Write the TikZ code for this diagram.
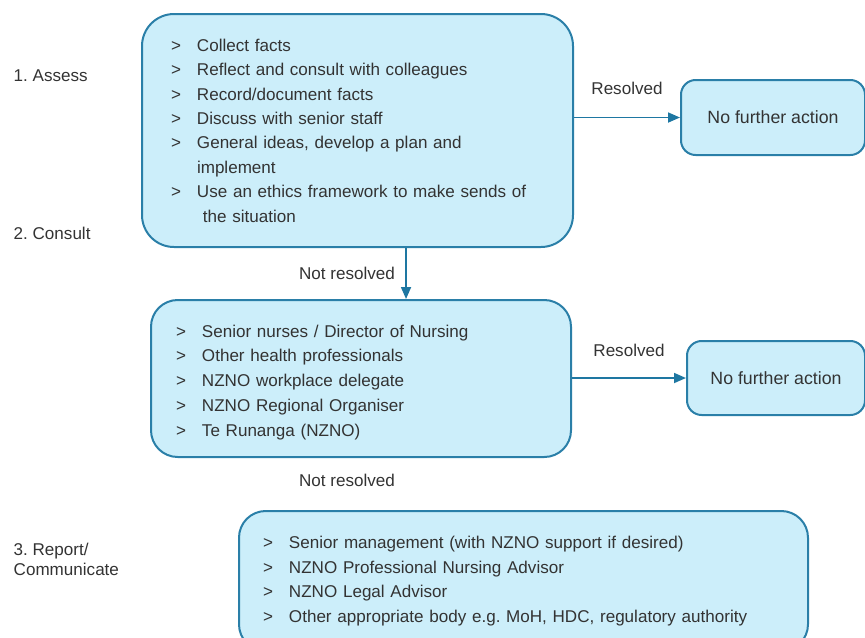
\documentclass[tikz,border=0pt]{standalone}
\usepackage{fontspec}
\setmainfont{Liberation Sans}
\usetikzlibrary{positioning,arrows.meta}

\definecolor{boxfill}{HTML}{CCEEFA}
\definecolor{boxline}{HTML}{2A7FA8}
\definecolor{arrowc}{HTML}{1E77A2}
\definecolor{txt}{HTML}{333333}

\newcommand{\itm}[1]{\makebox[19.5pt][l]{>}\mbox{#1}}
\newcommand{\cnt}[2][0pt]{\hspace*{\dimexpr19.5pt+#1\relax}\mbox{#2}}
\frenchspacing

\begin{document}
\begin{tikzpicture}[
    x=0.75pt, y=-0.75pt,
    font=\fontsize{12.8}{18.3}\selectfont, text=txt,
    stage/.style={rectangle, draw=boxline, fill=boxfill, line width=1.5pt,
                  anchor=north west, align=left, inner ysep=0pt},
    noaction/.style={rectangle, draw=boxline, fill=boxfill, line width=1.5pt,
                     rounded corners=11pt, anchor=north west, align=center,
                     font=\fontsize{13.3}{16}\selectfont},
    steplabel/.style={anchor=west, align=left,
                      font=\fontsize{12.8}{15}\selectfont},
    flow/.style={-{Triangle[length=9pt,width=7.5pt]}, draw=arrowc, line width=1.3pt}
]
\clip (0,0) rectangle (865,637);

% Step labels
\node[steplabel] (assess)  at (9,76)  {1. Assess};
\node[steplabel] (consult) at (9,233) {2. Consult};
\node[steplabel] (report)  at (9,559) {3. Report/\\Communicate};

% Assess box
\node[stage, rounded corners=24pt, minimum width=323.25pt, minimum height=174.75pt,
      text width=279.75pt, inner xsep=21.75pt] (assbox) at (141,13) {%
    \itm{Collect facts}\\
    \itm{Reflect and consult with colleagues}\\
    \itm{Record/document facts}\\
    \itm{Discuss with senior staff}\\
    \itm{General ideas, develop a plan and}\\
    \cnt{implement}\\
    \itm{Use an ethics framework to make sends of}\\
    \cnt[4.5pt]{the situation}};

% Consult box
\node[stage, rounded corners=20pt, minimum width=315pt, minimum height=117.75pt,
      text width=277.5pt, inner xsep=18.75pt,
      font=\fontsize{12.8}{18.6}\selectfont] (conbox) at (150,299) {%
    \rule{0pt}{15pt}\itm{Senior nurses / Director of Nursing}\\
    \itm{Other health professionals}\\
    \itm{NZNO workplace delegate}\\
    \itm{NZNO Regional Organiser}\\
    \itm{Te Runanga (NZNO)}};

% Report box
\node[stage, rounded corners=20pt, minimum width=426.75pt, minimum height=105pt,
      text width=390.75pt, inner xsep=18pt] (repbox) at (238,510) {%
    \itm{Senior management (with NZNO support if desired)}\\
    \itm{NZNO Professional Nursing Advisor}\\
    \itm{NZNO Legal Advisor}\\
    \itm{Other appropriate body e.g. MoH, HDC, regulatory authority}};

% No further action
\node[noaction, minimum width=138pt, minimum height=56.25pt] (nfa1) at (680,79)
    {No further action};
\node[noaction, minimum width=133.5pt, minimum height=55.5pt] (nfa2) at (686,340)
    {No further action};

% Outcomes
\draw[flow] (assbox.east |- nfa1.west) -- node[midway, above=13pt] (res1) {Resolved} (nfa1.west);
\draw[flow] (conbox.east |- nfa2.west) -- node[midway, above=12pt] (res2) {Resolved} (nfa2.west);
\draw[flow] ([xshift=36.4pt]assbox.south) -- ([xshift=36.4pt]assbox.south |- conbox.north);

\node (notres1) at (347,273) {Not resolved};
\node (notres2) at (347,480) {Not resolved};

\end{tikzpicture}
\end{document}
